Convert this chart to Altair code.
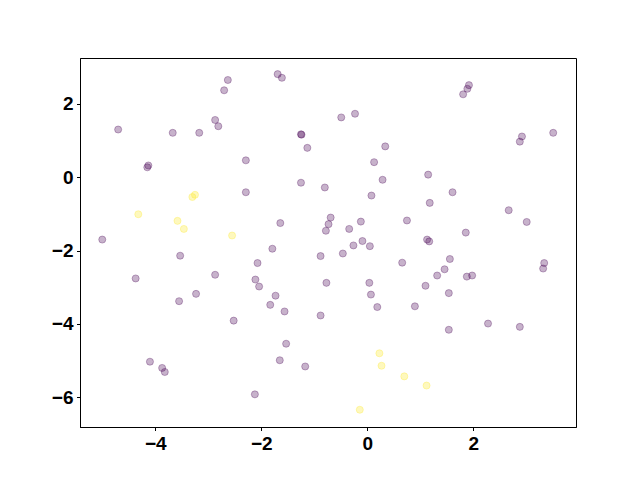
import altair as alt
import pandas as pd

# purple group (class 0)
x0 = [-2.63, -2.70, -2.87, -2.81, -4.70, -3.67, -3.17, -4.13, -4.15, -2.29,
      -1.69, -1.61, -0.23, -0.49, -1.24, -1.25, -1.13, 0.34, 0.13, 0.29,
      -1.25, -0.80, 1.92, 1.89, 1.81, 2.92, 2.88, 3.51, 1.15, -2.29,
      -5.00, -3.53, -4.37, -2.87, -3.23, -3.55, 0.08, -1.64, -0.69, -0.73,
      -0.78, -0.34, -0.12, 0.75, -1.79, -0.26, -0.09, 0.05, -0.46, -0.88,
      -2.07, 0.66, -2.11, -2.04, -0.77, 0.04, 0.07, -1.73, -1.83, -1.56,
      0.19, 1.61, 1.18, 2.67, 3.01, 1.86, 1.13, 1.17, 1.56, 1.46,
      1.32, 1.88, 1.98, 3.34, 3.32, 1.10, 1.54, 0.90, -2.52, -4.10,
      -3.87, -3.82, -0.88, -1.53, -1.65, -1.17, -2.12, 1.54, 2.28, 2.88]
y0 = [2.65, 2.37, 1.56, 1.39, 1.30, 1.21, 1.21, 0.32, 0.27, 0.46,
      2.81, 2.71, 1.73, 1.63, 1.16, 1.17, 0.80, 0.84, 0.41, -0.07,
      -0.15, -0.28, 2.51, 2.41, 2.26, 1.11, 0.97, 1.21, 0.07, -0.41,
      -1.70, -2.14, -2.76, -2.66, -3.18, -3.38, -0.50, -1.25, -1.10, -1.28,
      -1.46, -1.41, -1.21, -1.18, -1.95, -1.86, -1.74, -1.88, -2.08, -2.15,
      -2.34, -2.33, -2.79, -2.98, -2.88, -2.88, -3.20, -3.23, -3.48, -3.66,
      -3.54, -0.41, -0.70, -0.90, -1.22, -1.51, -1.70, -1.75, -2.23, -2.51,
      -2.68, -2.71, -2.68, -2.34, -2.49, -2.96, -3.16, -3.52, -3.91, -5.03,
      -5.20, -5.31, -3.77, -4.54, -4.99, -5.16, -5.92, -4.16, -3.99, -4.08]

# yellow group (class 1)
x1 = [-3.25, -3.30, -4.32, -3.58, -3.46, -2.55, 0.23, 0.27, 0.70, 1.12, -0.14]
y1 = [-0.48, -0.54, -1.01, -1.19, -1.41, -1.59, -4.80, -5.14, -5.43, -5.68, -6.34]

x_ticks = [-4, -2, 0, 2]
y_ticks = [-6, -4, -2, 0, 2]

df = pd.DataFrame({
    "x": x0 + x1,
    "y": y0 + y1,
    "c": [0] * len(x0) + [1] * len(x1),
})

font = "Liberation Sans"
colors = ["#440154", "#fde725"]

axis_common = dict(title=None, grid=False, tickSize=3.5,
                   labelFont=font, labelFontSize=19, labelFontWeight="bold",
                   labelColor="black", domainColor="black", tickColor="black",
                   labelPadding=3.5)

chart = alt.Chart(df).mark_circle(
    size=50, fillOpacity=0.3, strokeOpacity=0.3, strokeWidth=1
).encode(
    x=alt.X("x:Q",
            scale=alt.Scale(domain=[-5.42, 3.94], nice=False, zero=False),
            axis=alt.Axis(values=x_ticks, **axis_common)),
    y=alt.Y("y:Q",
            scale=alt.Scale(domain=[-6.81, 3.25], nice=False, zero=False),
            axis=alt.Axis(values=y_ticks, **axis_common)),
    color=alt.Color("c:N", scale=alt.Scale(domain=[0, 1], range=colors), legend=None),
    stroke=alt.Stroke("c:N", scale=alt.Scale(domain=[0, 1], range=colors), legend=None),
).properties(
    width=496, height=369,
    autosize=alt.AutoSizeParams(type="none"),
    padding={"left": 72, "top": 50, "right": 56, "bottom": 45},
).configure_view(
    stroke="black", strokeWidth=1
)

chart.save("out.html", embed_options={"renderer": "svg", "actions": False})
